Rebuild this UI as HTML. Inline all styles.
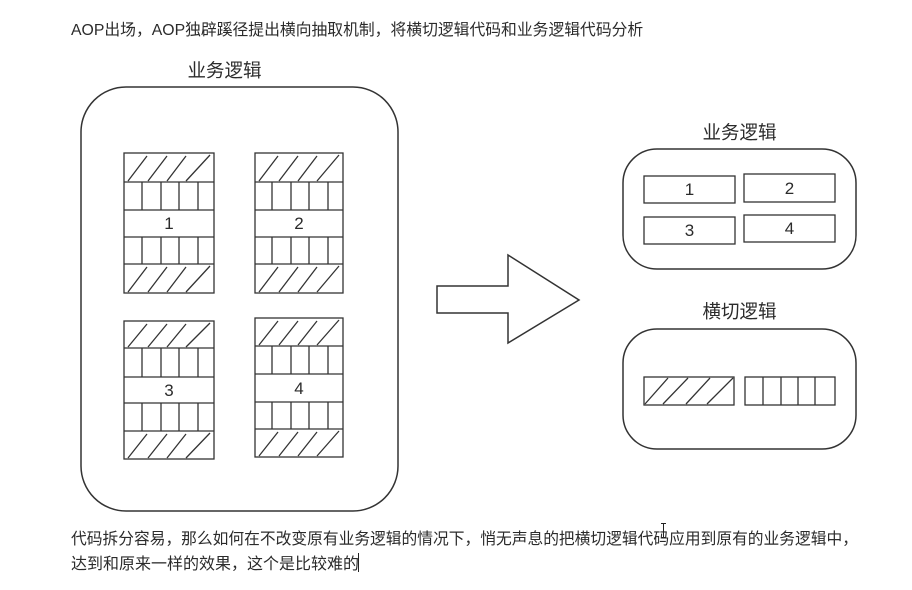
<!DOCTYPE html>
<html>
<head>
<meta charset="utf-8">
<style>
html,body{margin:0;padding:0;background:#fff;}
body{width:912px;height:590px;overflow:hidden;position:relative;}
svg{position:absolute;left:0;top:0;}
.t{font-family:"Liberation Sans","Noto Sans CJK SC",sans-serif;fill:#2b2b2b;}
</style>
</head>
<body>
<svg width="912" height="590" viewBox="0 0 912 590" xmlns="http://www.w3.org/2000/svg">
  <!-- top text -->
  <text class="t" x="71" y="35" font-size="15.8">AOP出场，AOP独辟蹊径提出横向抽取机制，将横切逻辑代码和业务逻辑代码分析</text>

  <!-- left title -->
  <text class="t" x="224.5" y="77" font-size="18.5" text-anchor="middle">业务逻辑</text>
  <!-- left outer box -->
  <rect x="81" y="87" width="317" height="424" rx="45" ry="45" fill="none" stroke="#333" stroke-width="1.5"/>

  <g fill="none" stroke="#333" stroke-width="1.3">
    <!-- Block 1 -->
    <g transform="translate(124,153)">
      <rect x="0" y="0" width="90" height="140"/>
      <line x1="0" y1="29" x2="90" y2="29"/>
      <line x1="0" y1="57" x2="90" y2="57"/>
      <line x1="0" y1="84" x2="90" y2="84"/>
      <line x1="0" y1="111" x2="90" y2="111"/>
      <line x1="18" y1="29" x2="18" y2="57"/><line x1="37" y1="29" x2="37" y2="57"/><line x1="55" y1="29" x2="55" y2="57"/><line x1="74" y1="29" x2="74" y2="57"/>
      <line x1="18" y1="84" x2="18" y2="111"/><line x1="37" y1="84" x2="37" y2="111"/><line x1="55" y1="84" x2="55" y2="111"/><line x1="74" y1="84" x2="74" y2="111"/>
      <line x1="4" y1="28" x2="23" y2="3"/><line x1="24" y1="28" x2="43" y2="3"/><line x1="43" y1="28" x2="62" y2="3"/><line x1="62" y1="28" x2="86" y2="2"/>
      <line x1="4" y1="139" x2="23" y2="114"/><line x1="24" y1="139" x2="43" y2="114"/><line x1="43" y1="139" x2="62" y2="114"/><line x1="62" y1="139" x2="86" y2="113"/>
    </g>
    <!-- Block 2 -->
    <g transform="translate(255,153)">
      <rect x="0" y="0" width="88" height="140"/>
      <line x1="0" y1="29" x2="88" y2="29"/>
      <line x1="0" y1="57" x2="88" y2="57"/>
      <line x1="0" y1="84" x2="88" y2="84"/>
      <line x1="0" y1="111" x2="88" y2="111"/>
      <line x1="17" y1="29" x2="17" y2="57"/><line x1="36" y1="29" x2="36" y2="57"/><line x1="54" y1="29" x2="54" y2="57"/><line x1="73" y1="29" x2="73" y2="57"/>
      <line x1="17" y1="84" x2="17" y2="111"/><line x1="36" y1="84" x2="36" y2="111"/><line x1="54" y1="84" x2="54" y2="111"/><line x1="73" y1="84" x2="73" y2="111"/>
      <line x1="4" y1="28" x2="23" y2="3"/><line x1="24" y1="28" x2="43" y2="3"/><line x1="43" y1="28" x2="62" y2="3"/><line x1="62" y1="28" x2="84" y2="2"/>
      <line x1="4" y1="139" x2="23" y2="114"/><line x1="24" y1="139" x2="43" y2="114"/><line x1="43" y1="139" x2="62" y2="114"/><line x1="62" y1="139" x2="84" y2="113"/>
    </g>
    <!-- Block 3 -->
    <g transform="translate(124,321)">
      <rect x="0" y="0" width="90" height="138"/>
      <line x1="0" y1="27" x2="90" y2="27"/>
      <line x1="0" y1="56" x2="90" y2="56"/>
      <line x1="0" y1="82" x2="90" y2="82"/>
      <line x1="0" y1="110" x2="90" y2="110"/>
      <line x1="18" y1="27" x2="18" y2="56"/><line x1="37" y1="27" x2="37" y2="56"/><line x1="55" y1="27" x2="55" y2="56"/><line x1="74" y1="27" x2="74" y2="56"/>
      <line x1="18" y1="82" x2="18" y2="110"/><line x1="37" y1="82" x2="37" y2="110"/><line x1="55" y1="82" x2="55" y2="110"/><line x1="74" y1="82" x2="74" y2="110"/>
      <line x1="4" y1="26" x2="23" y2="3"/><line x1="24" y1="26" x2="43" y2="3"/><line x1="43" y1="26" x2="62" y2="3"/><line x1="62" y1="26" x2="86" y2="2"/>
      <line x1="4" y1="137" x2="23" y2="113"/><line x1="24" y1="137" x2="43" y2="113"/><line x1="43" y1="137" x2="62" y2="113"/><line x1="62" y1="137" x2="86" y2="112"/>
    </g>
    <!-- Block 4 -->
    <g transform="translate(255,318)">
      <rect x="0" y="0" width="88" height="139"/>
      <line x1="0" y1="28" x2="88" y2="28"/>
      <line x1="0" y1="56" x2="88" y2="56"/>
      <line x1="0" y1="84" x2="88" y2="84"/>
      <line x1="0" y1="111" x2="88" y2="111"/>
      <line x1="17" y1="28" x2="17" y2="56"/><line x1="36" y1="28" x2="36" y2="56"/><line x1="54" y1="28" x2="54" y2="56"/><line x1="73" y1="28" x2="73" y2="56"/>
      <line x1="17" y1="84" x2="17" y2="111"/><line x1="36" y1="84" x2="36" y2="111"/><line x1="54" y1="84" x2="54" y2="111"/><line x1="73" y1="84" x2="73" y2="111"/>
      <line x1="4" y1="27" x2="23" y2="3"/><line x1="24" y1="27" x2="43" y2="3"/><line x1="43" y1="27" x2="62" y2="3"/><line x1="62" y1="27" x2="84" y2="2"/>
      <line x1="4" y1="138" x2="23" y2="114"/><line x1="24" y1="138" x2="43" y2="114"/><line x1="43" y1="138" x2="62" y2="114"/><line x1="62" y1="138" x2="84" y2="113"/>
    </g>
  </g>
  <!-- block labels -->
  <text class="t" x="169" y="229" font-size="17" text-anchor="middle">1</text>
  <text class="t" x="299" y="229" font-size="17" text-anchor="middle">2</text>
  <text class="t" x="169" y="396" font-size="17" text-anchor="middle">3</text>
  <text class="t" x="299" y="394" font-size="17" text-anchor="middle">4</text>

  <!-- big arrow -->
  <polygon points="437,286 508,286 508,255 579,300 508,343 508,313 437,313" fill="#fff" stroke="#333" stroke-width="1.5" stroke-linejoin="miter"/>

  <!-- right top -->
  <text class="t" x="739.5" y="139" font-size="18.5" text-anchor="middle">业务逻辑</text>
  <rect x="623" y="149" width="233" height="120" rx="34" ry="34" fill="none" stroke="#333" stroke-width="1.5"/>
  <g fill="none" stroke="#333" stroke-width="1.3">
    <rect x="644" y="176" width="91" height="27"/>
    <rect x="744" y="174" width="91" height="28"/>
    <rect x="644" y="217" width="91" height="27"/>
    <rect x="744" y="215" width="91" height="27"/>
  </g>
  <text class="t" x="689.5" y="195" font-size="17" text-anchor="middle">1</text>
  <text class="t" x="789.5" y="194" font-size="17" text-anchor="middle">2</text>
  <text class="t" x="689.5" y="236" font-size="17" text-anchor="middle">3</text>
  <text class="t" x="789.5" y="234" font-size="17" text-anchor="middle">4</text>

  <!-- right bottom -->
  <text class="t" x="739.5" y="318" font-size="18.5" text-anchor="middle">横切逻辑</text>
  <rect x="623" y="329" width="233" height="120" rx="34" ry="34" fill="none" stroke="#333" stroke-width="1.5"/>
  <g fill="none" stroke="#333" stroke-width="1.3">
    <rect x="644" y="377" width="90" height="28"/>
    <line x1="645" y1="404" x2="668" y2="378"/>
    <line x1="663" y1="404" x2="688" y2="378"/>
    <line x1="686" y1="404" x2="710" y2="378"/>
    <line x1="707" y1="404" x2="733" y2="378"/>
    <rect x="745" y="377" width="90" height="28"/>
    <line x1="763" y1="377" x2="763" y2="405"/>
    <line x1="781" y1="377" x2="781" y2="405"/>
    <line x1="798" y1="377" x2="798" y2="405"/>
    <line x1="815" y1="377" x2="815" y2="405"/>
  </g>

  <!-- bottom text -->
  <text class="t" x="71" y="544" font-size="16" textLength="787" lengthAdjust="spacingAndGlyphs">代码拆分容易，那么如何在不改变原有业务逻辑的情况下，悄无声息的把横切逻辑代码应用到原有的业务逻辑中，</text>
  <text class="t" x="71" y="569" font-size="16">达到和原来一样的效果，这个是比较难的</text>
  <!-- text caret -->
  <line x1="358.5" y1="553" x2="358.5" y2="572" stroke="#222" stroke-width="1"/>
  <!-- I-beam cursor -->
  <g stroke="#222" stroke-width="1" fill="none">
    <line x1="663.5" y1="524" x2="663.5" y2="537"/>
    <line x1="661" y1="523.5" x2="666" y2="523.5"/>
    <line x1="661" y1="537.5" x2="666" y2="537.5"/>
  </g>
</svg>
</body>
</html>
